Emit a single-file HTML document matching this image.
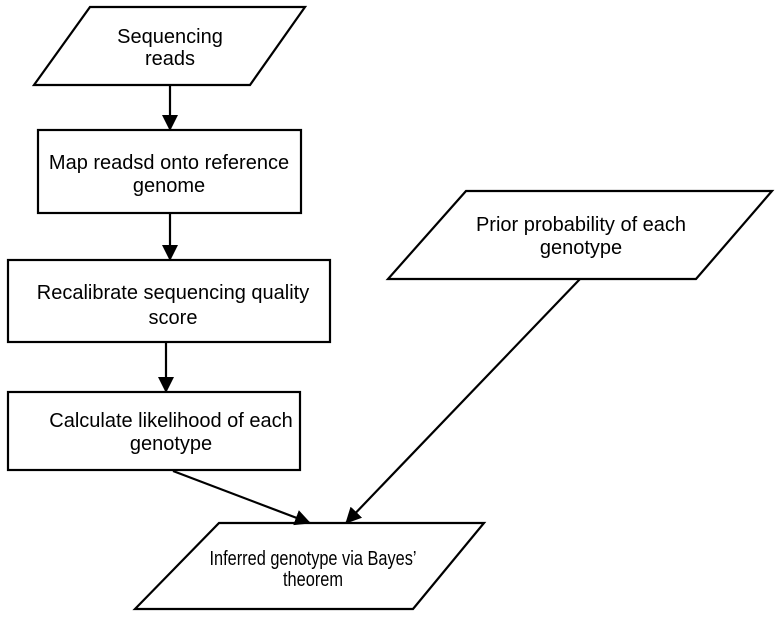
<!DOCTYPE html>
<html><head><style>body{margin:0;background:#fff}</style></head><body>
<svg width="782" height="619" viewBox="0 0 782 619" xmlns="http://www.w3.org/2000/svg" font-family="Liberation Sans, sans-serif" font-size="20" fill="#111">
<defs>
<marker id="b" markerWidth="16" markerHeight="16" refX="15" refY="8" orient="auto" markerUnits="userSpaceOnUse" viewBox="0 0 16 16"><path d="M0,0 L16,8 L0,16 z" fill="#000"/></marker></defs>
<g stroke="#000" stroke-width="2.2" fill="none">
<polygon points="90,7 305,7 250,85 34,85"/>
<rect x="38" y="130" width="263" height="83"/>
<rect x="8" y="260" width="322" height="82"/>
<rect x="8" y="392" width="292" height="78"/>
<polygon points="466,191 772,191 696,279 388,279"/>
<polygon points="219,523 484,523 413,609 135,609"/>
<line x1="170" y1="85" x2="170" y2="130" marker-end="url(#b)"/>
<line x1="170" y1="213" x2="170" y2="260" marker-end="url(#b)"/>
<line x1="166" y1="342" x2="166" y2="392" marker-end="url(#b)"/>
<line x1="173" y1="471" x2="310" y2="523" marker-end="url(#b)"/>
<line x1="580" y1="279" x2="346" y2="523" marker-end="url(#b)"/>
</g>
<g text-anchor="middle" fill="#000">
<text x="170" y="43">Sequencing</text><text x="170" y="65">reads</text>
<text x="169" y="169">Map readsd onto reference</text><text x="169" y="192">genome</text>
<text x="173" y="299">Recalibrate sequencing quality</text><text x="173" y="324">score</text>
<text x="171" y="427">Calculate likelihood of each</text><text x="171" y="450">genotype</text>
<text x="581" y="231">Prior probability of each</text><text x="581" y="254">genotype</text>
<text x="313" y="565" textLength="207" lengthAdjust="spacingAndGlyphs">Inferred genotype via Bayes’</text><text x="313" y="586" textLength="60" lengthAdjust="spacingAndGlyphs">theorem</text>
</g>
</svg>
</body></html>
